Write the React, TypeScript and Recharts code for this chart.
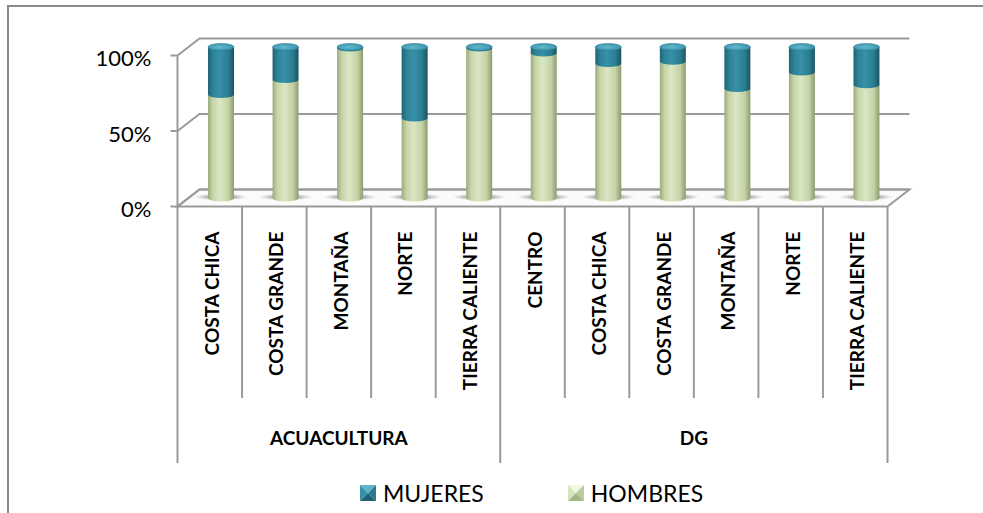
import { BarChart, Bar, XAxis, YAxis, CartesianGrid, Legend } from 'recharts'

// regions and their group on the two-level category axis
const CATEGORIES = [
  'COSTA CHICA',
  'COSTA GRANDE',
  'MONTAÑA',
  'NORTE',
  'TIERRA CALIENTE',
  'CENTRO',
  'COSTA CHICA',
  'COSTA GRANDE',
  'MONTAÑA',
  'NORTE',
  'TIERRA CALIENTE',
]
const GROUP_NAMES = ['ACUACULTURA', 'DG']
const GROUP_SIZES = [5, 6]

// share in percent
const HOMBRES = [68.5, 78.5, 99.4, 53, 99.4, 96, 89, 90.5, 72.5, 83.5, 75]
const MUJERES = [31.5, 21.5, 0.6, 47, 0.6, 4, 11, 9.5, 27.5, 16.5, 25]

const Y_TICKS = [0, 0.5, 1]

const CHART_W = 983
const CHART_H = 513
const X_AXIS_H = 30
const Y_AXIS_W = 60
const MARGIN = { top: 47, right: 84, bottom: 285, left: 129 }
const PLOT_LEFT = MARGIN.left + Y_AXIS_W
const PLOT_W = CHART_W - MARGIN.right - PLOT_LEFT
const PLOT_BOTTOM = CHART_H - MARGIN.bottom - X_AXIS_H
const PLOT_H = PLOT_BOTTOM - MARGIN.top
const BAND = PLOT_W / CATEGORIES.length

// fake 3d: bars stand mid-depth, the axis is in front, the walls behind
const FRONT = { dx: -11.5, dy: 8.5 }
const BACK = { dx: 10.5, dy: -8.5 }
const RY = 3.5
const GRID = '#9a9a9a'
const FONT = 'Lato, "Open Sans", sans-serif'

const TABLE_TOP = PLOT_BOTTOM + FRONT.dy
const SHORT_LINE_END = 398
const LONG_LINE_END = 463
const GROUP_LABEL_Y = 437

const GROUP_STARTS = GROUP_SIZES.map((_, i) =>
  GROUP_SIZES.slice(0, i).reduce((a, b) => a + b, 0),
)

const data = CATEGORIES.map((cat, i) => ({
  id: i,
  cat,
  hombres: HOMBRES[i],
  mujeres: MUJERES[i],
}))

function GreenCylinder(props: any) {
  const { x, y, width: w, height: h } = props
  if (w == null || h == null) return null
  const cx = x + w / 2
  const rx = w / 2
  const bottom = y + h
  return (
    <g>
      <ellipse cx={cx} cy={bottom - 1} rx={w * 1.05} ry={3.5} fill="url(#floorShadow)" />
      <path
        d={`M${x},${y} L${x},${bottom} A${rx},${RY} 0 0 0 ${x + w},${bottom} L${x + w},${y} Z`}
        fill="url(#greenBody)"
      />
    </g>
  )
}

function TealCylinder(props: any) {
  const { x, y, width: w, height: h } = props
  if (w == null || h == null) return null
  const cx = x + w / 2
  const rx = w / 2
  const bottom = y + h
  return (
    <g>
      <path
        d={`M${x},${y} L${x},${bottom} A${rx},${RY} 0 0 0 ${x + w},${bottom} L${x + w},${y} Z`}
        fill="url(#tealBody)"
      />
      <ellipse cx={cx} cy={y} rx={rx} ry={RY} fill="url(#tealCap)" stroke="#2a7d92" strokeWidth={0.6} />
    </g>
  )
}

function GridLine(props: any) {
  const { x1, x2, y1, index } = props
  const fy = y1 + FRONT.dy
  const by = y1 + BACK.dy
  const fl = x1 + FRONT.dx
  const fr = x2 + FRONT.dx
  const bl = x1 + BACK.dx
  const br = x2 + BACK.dx
  const isFloor = Math.abs(y1 - PLOT_BOTTOM) < 1
  return (
    <g key={`grid-${index}`}>
      {isFloor && (
        <polygon
          points={`${fl},${fy} ${fr},${fy} ${br},${by} ${bl},${by}`}
          fill="#fbfbfb"
          stroke={GRID}
          strokeWidth={2}
        />
      )}
      <polyline
        points={`${fl},${fy} ${bl},${by} ${br},${by}`}
        fill="none"
        stroke={GRID}
        strokeWidth={2}
      />
    </g>
  )
}

function YTick(props: any) {
  const { y, payload } = props
  const fy = y + FRONT.dy
  const ax = PLOT_LEFT + FRONT.dx
  return (
    <g>
      {payload.value === 0 && (
        <line x1={ax} x2={ax} y1={fy} y2={fy - PLOT_H} stroke={GRID} strokeWidth={2} />
      )}
      <line x1={ax - 7} x2={ax} y1={fy} y2={fy} stroke={GRID} strokeWidth={2} />
      <text
        x={ax - 26}
        y={fy + 2}
        textAnchor="end"
        dominantBaseline="central"
        fontFamily={FONT}
        fontSize={22}
        fill="#000"
      >
        {`${Math.round(payload.value * 100)}%`}
      </text>
    </g>
  )
}

function XTick(props: any) {
  const { x, payload } = props
  const i = payload.index
  const cx = x + FRONT.dx
  const left = cx - BAND / 2
  const right = cx + BAND / 2
  const g = GROUP_STARTS.indexOf(i)
  const isLast = i === CATEGORIES.length - 1
  return (
    <g>
      <line
        x1={left}
        x2={left}
        y1={TABLE_TOP}
        y2={g >= 0 ? LONG_LINE_END : SHORT_LINE_END}
        stroke={GRID}
        strokeWidth={2}
      />
      {isLast && (
        <line x1={right} x2={right} y1={TABLE_TOP} y2={LONG_LINE_END} stroke={GRID} strokeWidth={2} />
      )}
      <text
        transform={`translate(${cx + 1.5},${TABLE_TOP + 25}) rotate(-90)`}
        textAnchor="end"
        dominantBaseline="central"
        fontFamily={FONT}
        fontWeight={700}
        fontSize={19}
        fill="#000"
      >
        {CATEGORIES[i]}
      </text>
      {g >= 0 && (
        <text
          x={left + (GROUP_SIZES[g] * BAND) / 2}
          y={GROUP_LABEL_Y}
          textAnchor="middle"
          dominantBaseline="central"
          fontFamily={FONT}
          fontWeight={700}
          fontSize={19}
          fill="#000"
        >
          {GROUP_NAMES[g]}
        </text>
      )}
    </g>
  )
}

function Marker({ teal }: { teal: boolean }) {
  const c = teal
    ? ['#5fb6cc', '#3791a8', '#2a7a8e', '#1f6072']
    : ['#f1f6e6', '#d7e4bd', '#bccb9f', '#a5b686']
  return (
    <svg width={16} height={16} style={{ display: 'block' }}>
      <polygon points="0,0 16,0 8,8" fill={c[0]} />
      <polygon points="0,0 8,8 0,16" fill={c[1]} />
      <polygon points="16,0 16,16 8,8" fill={c[2]} />
      <polygon points="0,16 8,8 16,16" fill={c[3]} />
    </svg>
  )
}

function LegendContent(props: any) {
  const items = [...(props.payload || [])].reverse()
  return (
    <div style={{ display: 'flex', alignItems: 'center', paddingLeft: 360 }}>
      {items.map((it: any, i: number) => (
        <div
          key={it.value}
          style={{ display: 'flex', alignItems: 'center', marginRight: i === 0 ? 84 : 0 }}
        >
          <Marker teal={it.dataKey === 'mujeres'} />
          <span
            style={{
              marginLeft: 7,
              fontFamily: FONT,
              fontSize: 23,
              lineHeight: '28px',
              color: '#000',
            }}
          >
            {it.value}
          </span>
        </div>
      ))}
    </div>
  )
}

export default function App() {
  return (
    <div
      style={{
        position: 'absolute',
        left: 0,
        top: 0,
        width: CHART_W,
        height: CHART_H,
        overflow: 'hidden',
        background: '#fff',
      }}
    >
      <div
        style={{
          position: 'absolute',
          left: 7,
          top: 5,
          width: 1100,
          height: 700,
          border: '2.5px solid #8a8a8a',
        }}
      />
      <div style={{ position: 'absolute', left: 0, top: 0 }}>
        <BarChart
          width={CHART_W}
          height={CHART_H}
          data={data}
          margin={MARGIN}
          stackOffset="expand"
          barSize={26}
        >
          <defs>
            <linearGradient id="greenBody" x1="0" y1="0" x2="1" y2="0">
              <stop offset="0" stopColor="#9aab7c" />
              <stop offset="0.18" stopColor="#c6d4a8" />
              <stop offset="0.45" stopColor="#dbe7c3" />
              <stop offset="0.78" stopColor="#c4d2a6" />
              <stop offset="1" stopColor="#8c9c70" />
            </linearGradient>
            <linearGradient id="tealBody" x1="0" y1="0" x2="1" y2="0">
              <stop offset="0" stopColor="#1f6577" />
              <stop offset="0.2" stopColor="#2e8399" />
              <stop offset="0.45" stopColor="#3791a8" />
              <stop offset="0.78" stopColor="#2b7c90" />
              <stop offset="1" stopColor="#1a5463" />
            </linearGradient>
            <radialGradient id="tealCap" cx="0.45" cy="0.5" r="0.6">
              <stop offset="0" stopColor="#62b7cd" />
              <stop offset="1" stopColor="#3792aa" />
            </radialGradient>
            <radialGradient id="floorShadow" cx="0.5" cy="0.5" r="0.5">
              <stop offset="0" stopColor="#5a5a5a" stopOpacity={0.85} />
              <stop offset="0.6" stopColor="#8a8a8a" stopOpacity={0.5} />
              <stop offset="1" stopColor="#bbbbbb" stopOpacity={0} />
            </radialGradient>
          </defs>
          <CartesianGrid vertical={false} horizontal={GridLine} />
          <XAxis
            dataKey="cat"
            height={X_AXIS_H}
            interval={0}
            axisLine={false}
            tickLine={false}
            allowDuplicatedCategory
            tick={<XTick />}
          />
          <YAxis
            type="number"
            domain={[0, 1]}
            ticks={Y_TICKS}
            width={Y_AXIS_W}
            axisLine={false}
            tickLine={false}
            tick={<YTick />}
          />
          <Legend
            verticalAlign="middle"
            layout="horizontal"
            wrapperStyle={{ top: 479, left: 0, width: CHART_W }}
            content={<LegendContent />}
          />
          <Bar
            dataKey="hombres"
            name="HOMBRES"
            stackId="a"
            fill="#d7e4bd"
            shape={(p: any) => <GreenCylinder {...p} />}
            isAnimationActive={false}
          />
          <Bar
            dataKey="mujeres"
            name="MUJERES"
            stackId="a"
            fill="#31859c"
            shape={(p: any) => <TealCylinder {...p} />}
            isAnimationActive={false}
          />
        </BarChart>
      </div>
    </div>
  )
}
